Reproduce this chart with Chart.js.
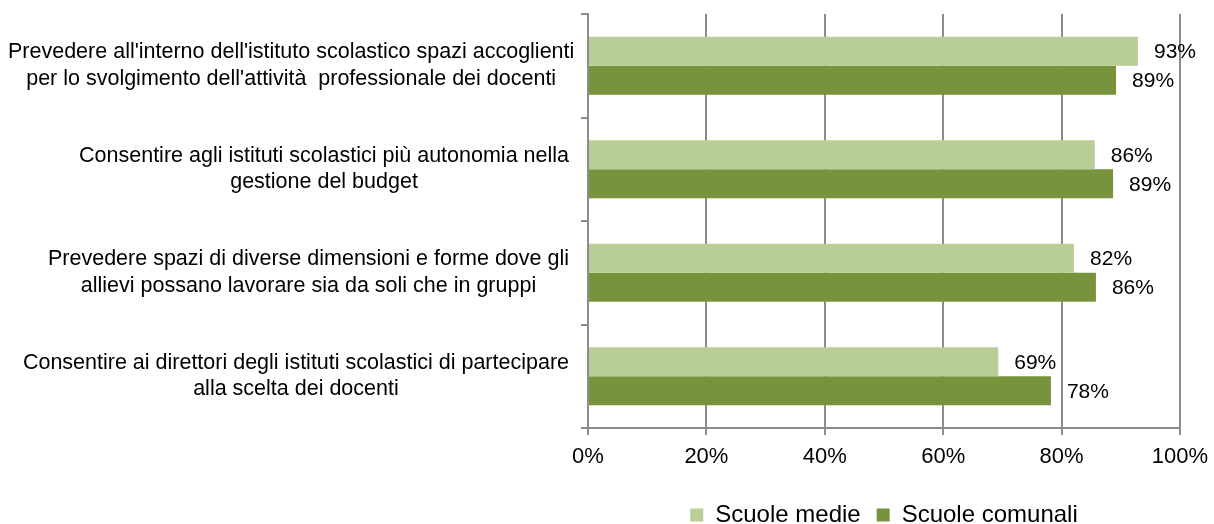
<!DOCTYPE html>
<html>
<head>
<meta charset="utf-8">
<script src="https://cdn.jsdelivr.net/npm/chart.js@4/dist/chart.umd.min.js"></script>
<style>
    html, body { margin: 0; padding: 0; background: #fff; }
    #wrap { width: 1214px; height: 524px; position: relative; }
</style>
</head>
<body>
<div id="wrap"><canvas id="chart"></canvas></div>
<script>
/* ========== Dati ========== */

const categories = [
    ["Prevedere all'interno dell'istituto scolastico spazi accoglienti", "per lo svolgimento dell'attività  professionale dei docenti"],
    ['Consentire agli istituti scolastici più autonomia nella', 'gestione del budget'],
    ['Prevedere spazi di diverse dimensioni e forme dove gli', 'allievi possano lavorare sia da soli che in gruppi'],
    ['Consentire ai direttori degli istituti scolastici di partecipare', 'alla scelta dei docenti'],
];

const seriesNames = ['Scuole medie', 'Scuole comunali'];
const scuoleMedie = [92.9, 85.6, 82.1, 69.3];
const scuoleComunali = [89.2, 88.7, 85.8, 78.2];
const xTicks = [0, 20, 40, 60, 80, 100];

const palette = {
    light: '#b9cd96',
    dark: '#77933c',
    axis: '#8c8c8c',
    text: '#000000',
};

const FONT = "'Liberation Sans', Arial, sans-serif";

// category labels: every block right aligned, lines centred inside the block
const categoryLabels = {
    id: 'categoryLabels',
    afterDraw(chart) {
        const { ctx } = chart;
        const y = chart.scales.y;
        const lineH = 26.5;
        ctx.save();
        ctx.font = '21.5px ' + FONT;
        ctx.fillStyle = palette.text;
        ctx.textAlign = 'center';
        ctx.textBaseline = 'middle';
        categories.forEach((lines, i) => {
            const w = Math.max(...lines.map(l => ctx.measureText(l).width));
            const cx = Math.max(569 - w / 2, 8 + w / 2);
            const cy = y.getPixelForValue(i);
            const top = cy - (lines.length - 1) * lineH / 2;
            lines.forEach((l, k) => ctx.fillText(l, cx, top + k * lineH));
        });
        ctx.restore();
    },
};

// value labels outside the bar end
const valueLabels = {
    id: 'valueLabels',
    afterDatasetsDraw(chart) {
        const { ctx } = chart;
        ctx.save();
        ctx.font = '21px ' + FONT;
        ctx.fillStyle = palette.text;
        ctx.textAlign = 'left';
        ctx.textBaseline = 'middle';
        chart.data.datasets.forEach((ds, di) => {
            chart.getDatasetMeta(di).data.forEach((bar, i) => {
                ctx.fillText(Math.round(ds.data[i]) + '%', bar.x + 16, bar.y + 1);
            });
        });
        ctx.restore();
    },
};

new Chart(document.getElementById('chart'), {
    type: 'bar',
    data: {
        labels: categories,
        datasets: [
            {
                label: seriesNames[0],
                data: scuoleMedie,
                backgroundColor: palette.light,
                categoryPercentage: 0.56,
                barPercentage: 1,
            },
            {
                label: seriesNames[1],
                data: scuoleComunali,
                backgroundColor: palette.dark,
                categoryPercentage: 0.56,
                barPercentage: 1,
            },
        ],
    },
    options: {
        indexAxis: 'y',
        responsive: true,
        maintainAspectRatio: false,
        animation: false,
        layout: { padding: { top: 14, right: 34, left: 0, bottom: -13 } },
        plugins: {
            tooltip: { enabled: false },
            legend: {
                position: 'bottom',
                fullSize: false,
                labels: {
                    color: palette.text,
                    font: { family: FONT, size: 24 },
                    boxWidth: 13,
                    boxHeight: 13,
                    padding: 16,
                },
            },
        },
        scales: {
            x: {
                min: 0,
                max: 100,
                afterBuildTicks: scale => { scale.ticks = xTicks.map(v => ({ value: v })); },
                afterFit: scale => {
                    scale.height = 59;
                    scale.paddingLeft = 0;
                    scale.paddingRight = 0;
                },
                ticks: {
                    color: palette.text,
                    font: { family: FONT, size: 22 },
                    padding: 9,
                    maxRotation: 0,
                    callback: v => v + '%',
                },
                grid: { color: palette.axis, lineWidth: 2, tickLength: 7 },
                border: { color: palette.axis, width: 2 },
            },
            y: {
                afterFit: scale => { scale.width = 588; },
                ticks: { display: false },
                grid: { drawOnChartArea: false, drawTicks: true, tickLength: 7, color: palette.axis, lineWidth: 2, offset: true },
                border: { color: palette.axis, width: 2 },
            },
        },
    },
    plugins: [valueLabels, categoryLabels],
});
</script>
</body>
</html>
